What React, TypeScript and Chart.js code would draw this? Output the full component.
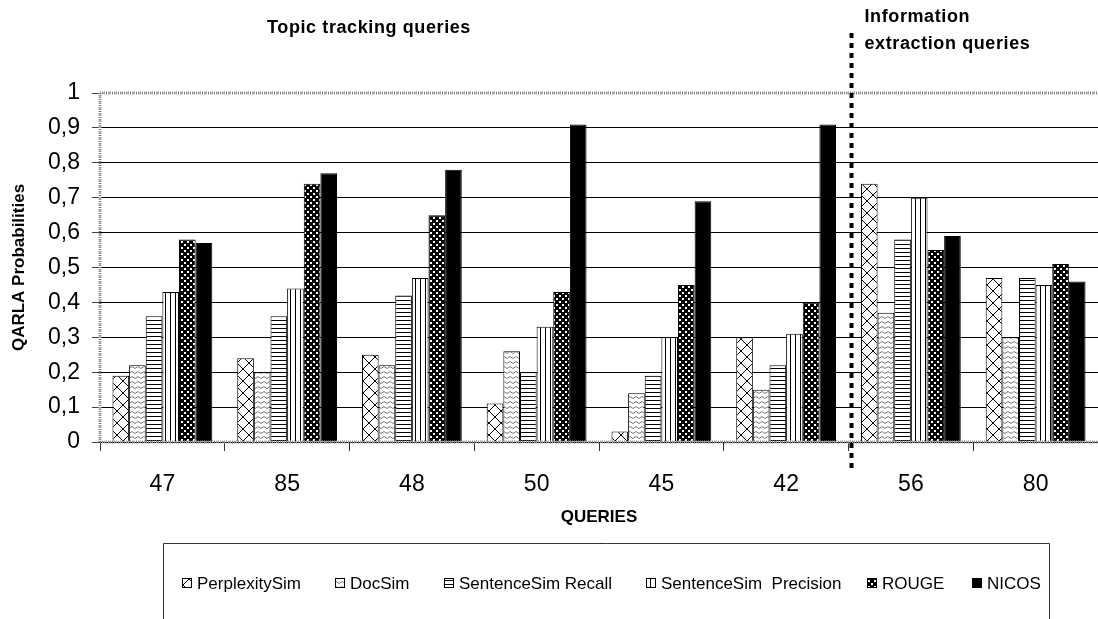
import React, { useEffect, useRef } from "react";
import { Chart, registerables } from "chart.js";

Chart.register(...registerables);

const categories = ["47", "85", "48", "50", "45", "42", "56", "80"];
const seriesLabels = ["PerplexitySim", "DocSim", "SentenceSim Recall", "SentenceSim  Precision", "ROUGE", "NICOS"];
const perplexitySim = [0.19, 0.24, 0.25, 0.11, 0.03, 0.30, 0.74, 0.47];
const docSim = [0.22, 0.20, 0.22, 0.26, 0.14, 0.15, 0.37, 0.30];
const sentenceSimRecall = [0.36, 0.36, 0.42, 0.20, 0.19, 0.22, 0.58, 0.47];
const sentenceSimPrecision = [0.43, 0.44, 0.47, 0.33, 0.30, 0.31, 0.70, 0.45];
const rouge = [0.58, 0.74, 0.65, 0.43, 0.45, 0.40, 0.55, 0.51];
const nicos = [0.57, 0.77, 0.78, 0.91, 0.69, 0.91, 0.59, 0.46];
const groupTitles = ["Topic tracking queries", "Information", "extraction queries"];

const FONT = "'Liberation Sans', Arial, sans-serif";

function makePattern(kind: string): CanvasPattern | string {
  const c = document.createElement("canvas");
  const g = c.getContext("2d")!;
  if (kind === "cross") {
    c.width = 12; c.height = 12;
    g.fillStyle = "#fff"; g.fillRect(0, 0, 12, 12);
    g.strokeStyle = "#000"; g.lineWidth = 1;
    g.beginPath();
    g.moveTo(0, 12); g.lineTo(12, 0);
    g.moveTo(-6, 6); g.lineTo(0, 0);
    g.moveTo(6, 18); g.lineTo(18, 6);
    g.moveTo(0, 6); g.lineTo(6, 12);
    g.moveTo(6, 0); g.lineTo(12, 6);
    g.stroke();
  } else if (kind === "wave") {
    c.width = 6; c.height = 5;
    g.fillStyle = "#fff"; g.fillRect(0, 0, 6, 5);
    g.strokeStyle = "#7a7a7a"; g.lineWidth = 1;
    g.beginPath();
    g.moveTo(0, 1.5); g.lineTo(3, 3.5); g.lineTo(6, 1.5);
    g.stroke();
  } else if (kind === "hlines") {
    c.width = 4; c.height = 4;
    g.fillStyle = "#fff"; g.fillRect(0, 0, 4, 4);
    g.fillStyle = "#000"; g.fillRect(0, 0, 4, 1);
  } else if (kind === "vlines") {
    c.width = 5; c.height = 4;
    g.fillStyle = "#fff"; g.fillRect(0, 0, 5, 4);
    g.fillStyle = "#000"; g.fillRect(0, 0, 1, 4);
  } else if (kind === "dots") {
    c.width = 6; c.height = 6;
    g.fillStyle = "#000"; g.fillRect(0, 0, 6, 6);
    g.fillStyle = "#fff";
    g.fillRect(1, 1, 2, 2);
    g.fillRect(4, 4, 2, 2);
  } else {
    return "#000";
  }
  return g.createPattern(c, "repeat")!;
}

function hatchedLine(ctx: CanvasRenderingContext2D, x1: number, y1: number, x2: number, y2: number) {
  ctx.save();
  ctx.strokeStyle = "#9a9a9a";
  ctx.lineWidth = 3;
  ctx.setLineDash([1, 1]);
  ctx.beginPath(); ctx.moveTo(x1, y1); ctx.lineTo(x2, y2); ctx.stroke();
  ctx.strokeStyle = "#5a5a5a";
  ctx.lineWidth = 1;
  ctx.setLineDash([1, 2]);
  ctx.beginPath(); ctx.moveTo(x1, y1); ctx.lineTo(x2, y2); ctx.stroke();
  ctx.restore();
}

const decorPlugin = {
  id: "decor",
  afterDatasetsDraw(chart: any) {
    const { ctx, chartArea, scales } = chart;
    const { left, right, top, bottom } = chartArea;
    hatchedLine(ctx, left, top, right, top);
    hatchedLine(ctx, left, top, left, bottom);
    hatchedLine(ctx, left, bottom, right, bottom);

    const xs = scales.x;
    const sepX = (xs.getPixelForValue(5) + xs.getPixelForValue(6)) / 2 + 3;
    ctx.save();
    ctx.strokeStyle = "#000";
    ctx.lineWidth = 4;
    ctx.setLineDash([5, 5]);
    ctx.beginPath(); ctx.moveTo(sepX, 33); ctx.lineTo(sepX, 468); ctx.stroke();
    ctx.restore();

    ctx.save();
    ctx.fillStyle = "#000";
    ctx.font = `bold 18px ${FONT}`;
    (ctx as any).letterSpacing = "0.6px";
    ctx.textBaseline = "middle";
    ctx.textAlign = "center";
    ctx.fillText(groupTitles[0], 369, 28);
    ctx.textAlign = "left";
    ctx.fillText(groupTitles[1], sepX + 13, 17);
    ctx.fillText(groupTitles[2], sepX + 13, 44);
    ctx.restore();

    // legend box
    ctx.save();
    ctx.strokeStyle = "#333";
    ctx.lineWidth = 1;
    ctx.beginPath();
    ctx.moveTo(163.5, 625); ctx.lineTo(163.5, 543.5); ctx.lineTo(1049.5, 543.5); ctx.lineTo(1049.5, 625);
    ctx.stroke();
    const itemX = [182, 335, 444, 646, 867, 972];
    ctx.font = `17px ${FONT}`;
    ctx.textBaseline = "middle";
    ctx.textAlign = "left";
    chart.data.datasets.forEach((ds: any, i: number) => {
      const x = itemX[i];
      const y = 583;
      ctx.fillStyle = ds.backgroundColor;
      ctx.fillRect(x, y - 5, 10, 10);
      ctx.strokeStyle = "#000";
      ctx.strokeRect(x + 0.5, y - 4.5, 9, 9);
      ctx.fillStyle = "#000";
      ctx.fillText(ds.label, x + 15, y + 1);
    });
    ctx.restore();
  },
};

export default function App() {
  const ref = useRef<HTMLCanvasElement>(null);
  useEffect(() => {
    document.body.style.margin = "0";
    const kinds = ["cross", "wave", "hlines", "vlines", "dots", "solid"];
    const values = [perplexitySim, docSim, sentenceSimRecall, sentenceSimPrecision, rouge, nicos];
    const chart = new Chart(ref.current!, {
      type: "bar",
      data: {
        labels: categories,
        datasets: values.map((v, i) => ({
          label: seriesLabels[i],
          data: v,
          backgroundColor: makePattern(kinds[i]) as any,
          borderColor: "#000",
          borderWidth: 1,
          categoryPercentage: 0.8,
          barPercentage: 1,
        })),
      },
      options: {
        animation: false,
        responsive: false,
        layout: { padding: { top: 93, right: 0, left: 0, bottom: 0 } },
        plugins: { legend: { display: false }, tooltip: { enabled: false } },
        scales: {
          x: {
            grid: { drawOnChartArea: false, drawTicks: true, tickLength: 9, color: "#333", offset: true },
            border: { display: false },
            ticks: { color: "#000", font: { family: FONT, size: 23 }, padding: 20 },
            title: { display: true, text: "QUERIES", color: "#000", font: { family: FONT, size: 17, weight: "bold" }, padding: { top: 0, bottom: 91 } },
            afterFit: (s: any) => { s.height = 177; },
          },
          y: {
            min: 0,
            max: 1,
            grid: {
              color: (c: any) => (c.tick && Math.abs(c.tick.value - 1) < 1e-6 ? "rgba(0,0,0,0)" : "#000"),
              tickColor: "#444",
              tickLength: 8,
              lineWidth: 1,
            },
            border: { display: false },
            ticks: {
              stepSize: 0.1,
              color: "#000",
              font: { family: FONT, size: 23 },
              padding: 12,
              callback: (v: any) => {
                const r = Math.round(Number(v) * 10) / 10;
                return r === 0 || r === 1 ? String(r) : r.toFixed(1).replace(".", ",");
              },
            },
            title: { display: true, text: "QARLA Probabilities", color: "#000", font: { family: FONT, size: 17, weight: "bold" }, padding: { top: 9, bottom: 0 } },
            afterFit: (s: any) => { s.width = 100; },
          },
        },
      },
      plugins: [decorPlugin],
    });
    return () => chart.destroy();
  }, []);
  return (
    <div style={{ width: 1098, height: 619 }}>
      <canvas ref={ref} width={1098} height={619} />
    </div>
  );
}
